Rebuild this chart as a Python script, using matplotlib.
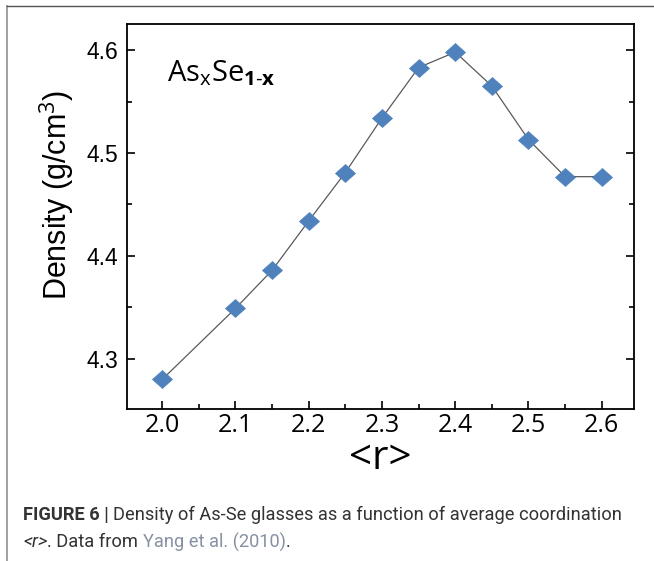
import matplotlib
matplotlib.use("Agg")
import matplotlib.pyplot as plt
from matplotlib.ticker import MultipleLocator
from matplotlib.lines import Line2D

r_values = [2.0, 2.1, 2.15, 2.2, 2.25, 2.3, 2.35, 2.4, 2.45, 2.5, 2.55, 2.6]
density = [4.280, 4.349, 4.386, 4.434, 4.481, 4.534, 4.583, 4.598, 4.565, 4.513, 4.477, 4.477]
x_ticks = [2.0, 2.1, 2.2, 2.3, 2.4, 2.5, 2.6]
y_ticks = [4.3, 4.4, 4.5, 4.6]

plt.rcParams["mathtext.fontset"] = "custom"
plt.rcParams["mathtext.rm"] = "Open Sans"
plt.rcParams["mathtext.bf"] = "Open Sans:bold"

W, H = 654, 561
fig = plt.figure(figsize=(W / 100, H / 100), dpi=100)

# axes position in pixels
left, right, top, bottom = 127, 634, 24, 409
ax = fig.add_axes([left / W, 1 - bottom / H, (right - left) / W, (bottom - top) / H])

ax.plot(r_values, density, color="#5a5a5a", lw=0.9, zorder=2)
diamond = [(-1, 0), (0, 0.9), (1, 0), (0, -0.9), (-1, 0)]
ax.plot(r_values, density, ls="none", marker=diamond, ms=14.4, color="#4F81BD",
        markeredgecolor="#4F81BD", markeredgewidth=0.5, zorder=3)

ax.set_xlim(1.952, 2.644)
ax.set_ylim(4.2513, 4.6253)
ax.set_xticks(x_ticks)
ax.set_xticklabels([f"{v:.1f}" for v in x_ticks], fontsize=18, family="Open Sans")
ax.set_yticks(y_ticks)
ax.set_yticklabels([f"{v:.1f}" for v in y_ticks], fontsize=16.5, family="Liberation Sans")
ax.xaxis.set_minor_locator(MultipleLocator(0.05))
ax.yaxis.set_minor_locator(MultipleLocator(0.05))
ax.tick_params(axis="both", which="major", direction="in", length=5.8, width=1.2,
               top=False, right=True)
ax.tick_params(axis="both", which="minor", direction="in", length=3.6, width=1.2,
               top=False, right=True)
ax.tick_params(axis="x", which="major", pad=3)
ax.tick_params(axis="y", which="major", pad=6.5)
for s in ax.spines.values():
    s.set_linewidth(1.3)

ax.set_xlabel("<r>", fontsize=29, family="Open Sans", labelpad=0)
ax.set_ylabel("Density (g/cm$^3$)", fontsize=22, family="Liberation Sans")
ax.yaxis.set_label_coords(-0.099, 0.557)

ax.text(0.079, 0.873, r"As$_\mathregular{x}$Se$_\mathbf{1\text{-}x}$", transform=ax.transAxes,
        fontsize=21, family="Open Sans", va="center", ha="left")

# outer frame lines
fig.add_artist(Line2D([7 / W, 7 / W], [0, 1 - 6 / H], transform=fig.transFigure,
                      color="#999999", lw=1.3))
fig.add_artist(Line2D([7 / W, 1], [1 - 6 / H, 1 - 6 / H], transform=fig.transFigure,
                      color="#555555", lw=1.0))

# caption
fam = "Roboto"
fs = 12.5
col = "#333333"
cap_y1 = 1 - 515 / H
cap_y2 = 1 - 542 / H
x0 = 23


def run(parts, y, size):
    x = x0
    arts = []
    for txt, kw in parts:
        t = fig.text(x / W, y, txt, fontsize=size, family=fam, va="center", **kw)
        fig.canvas.draw()
        bb = t.get_window_extent()
        x = bb.x1
        arts.append(t)
    return x, arts


line1 = [("FIGURE 6 | ", dict(weight="bold", color=col)),
         ("Density of As-Se glasses as a function of average coordination", dict(color=col))]
end, arts = run(line1, cap_y1, fs)
scale = (620 - x0) / (end - x0)
for a in arts:
    a.remove()
fs = fs * scale
run(line1, cap_y1, fs)
line2 = [("<r>", dict(style="italic", color=col)),
         (". Data from ", dict(color=col)),
         ("Yang et al. (2010)", dict(color="#8791a3")),
         (".", dict(color=col))]
run(line2, cap_y2, fs)

fig.savefig("out.png", dpi=100)
